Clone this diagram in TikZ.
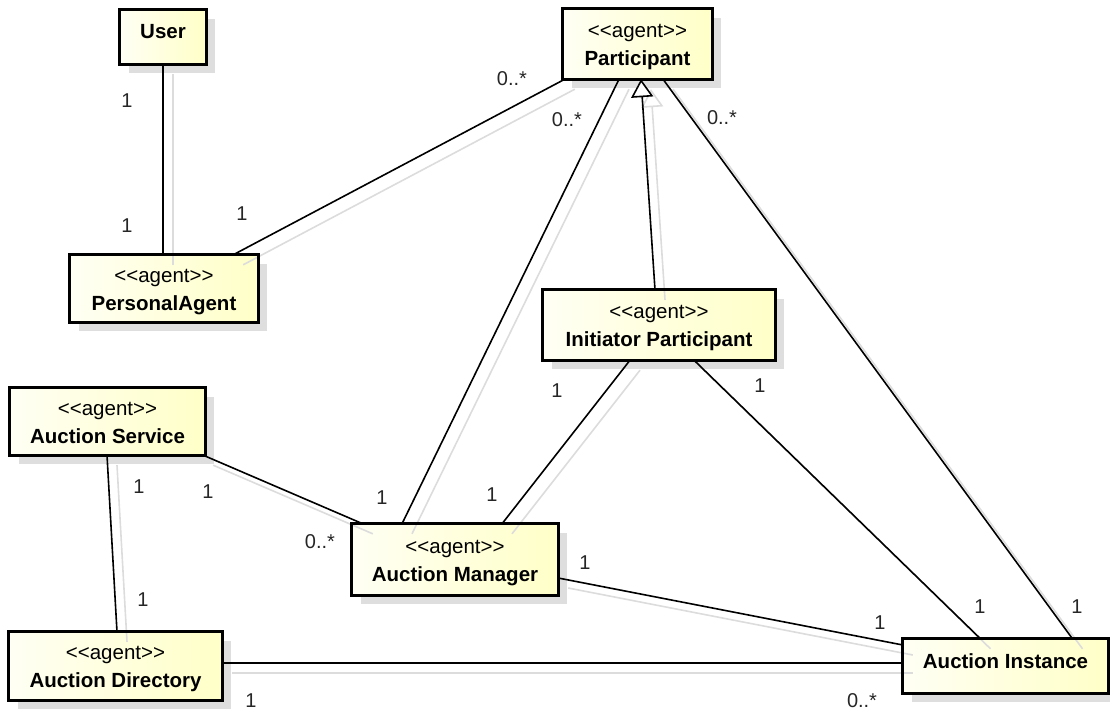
\documentclass[tikz,border=0pt]{standalone}
\usepackage{fontspec}
\setmainfont{Liberation Sans}
\newfontfamily\stereofont{Liberation Sans}
\usetikzlibrary{arrows.meta,calc}

\definecolor{boxleft}{RGB}{255,255,244}
\definecolor{boxright}{RGB}{255,255,200}
\definecolor{shadowgrey}{RGB}{222,222,222}
\definecolor{lineshadow}{RGB}{220,220,220}

% two-line class label: stereotype above, bold name below
\newcommand\agentname[1]{\rule{0pt}{20pt}{\stereofont\fontsize{20.5}{28}\selectfont <<agent>>}\\
  \rule[-4pt]{0pt}{4pt}{\fontsize{20.5}{28}\selectfont\bfseries #1}}
% one-line class label
\newcommand\plainname[1]{\rule[-12pt]{0pt}{28pt}{\fontsize{20.5}{28}\selectfont\bfseries #1}}

\tikzset{
  classbox/.style={rectangle, inner sep=0pt, align=center,
    left color=boxleft, right color=boxright, font=\fontsize{20.5}{28}\selectfont},
  boxshadow/.style={fill=shadowgrey, draw=none},
  boxborder/.style={draw=black, line width=3pt, line join=miter},
  assoc/.style={draw=black, line width=1.6pt},
  shadowline/.style={draw=lineshadow, line width=1.6pt, transform canvas={shift={(10pt,-10pt)}}},
  mult/.style={font=\fontsize{20}{22}\selectfont, inner sep=0pt, text=black!85},
}

\begin{document}
\begin{tikzpicture}[x=1pt, y=-1pt]
\useasboundingbox (0,0) rectangle (1110,711);

% class shadows
\foreach \cx/\cy/\w/\h in {163/37/86/54, 637.5/44/149/70, 164/288.5/188/67,
  659/325/232/70, 107.5/421.5/195/67, 455/559.5/206/71, 115.5/666/213/68,
  1005.5/666/205/54}
  \fill[boxshadow] (\cx-\w/2+9, \cy-\h/2+9) rectangle (\cx+\w/2+9, \cy+\h/2+9);

% classes
\node[classbox, minimum width=86pt, minimum height=54pt] (user) at (163,37) {\plainname{User}};
\node[classbox, minimum width=149pt, minimum height=70pt] (part) at (637.5,44) {\agentname{Participant}};
\node[classbox, minimum width=188pt, minimum height=67pt] (pa) at (164,288.5) {\agentname{PersonalAgent}};
\node[classbox, minimum width=232pt, minimum height=70pt] (init) at (659,325) {\agentname{Initiator Participant}};
\node[classbox, minimum width=195pt, minimum height=67pt] (serv) at (107.5,421.5) {\agentname{Auction Service}};
\node[classbox, minimum width=206pt, minimum height=71pt] (man) at (455,559.5) {\agentname{Auction Manager}};
\node[classbox, minimum width=213pt, minimum height=68pt] (dir) at (115.5,666) {\agentname{Auction Directory}};
\node[classbox, minimum width=205pt, minimum height=54pt] (inst) at (1005.5,666) {\plainname{Auction Instance}};

% connector shadows
\draw[shadowline] (user.south) -- (user.south |- pa.north);
\draw[shadowline] ([xshift=2pt]part.south west) -- ([xshift=-25pt]pa.north east);
\draw[shadowline] ([xshift=-18.5pt]part.south) -- ([xshift=-53pt]man.north);
\draw[shadowline, -{Triangle[open, length=18pt, width=22pt]}, line join=miter] ([xshift=-4pt]init.north) -- ([xshift=3.5pt]part.south);
\draw[shadowline] ([xshift=25.5pt]part.south) -- ([xshift=67pt]inst.north);
\draw[shadowline] ([xshift=-29pt]init.south) -- ([xshift=47pt]man.north);
\draw[shadowline] ([xshift=35pt]init.south) -- ([xshift=-25pt]inst.north);
\draw[shadowline] ([xshift=-2pt]serv.south east) -- ([xshift=11pt]man.north west);
\draw[shadowline] ([xshift=-0.5pt]serv.south) -- ([xshift=1.5pt]dir.north);
\draw[shadowline] ([yshift=-18.5pt]man.east) -- ([yshift=21pt]inst.west);
\draw[shadowline] ([yshift=3pt]dir.east) -- ([yshift=3pt]inst.west);

% class borders
\foreach \n in {user, part, pa, init, serv, man, dir, inst}
  \draw[boxborder] (\n.south west) rectangle (\n.north east);

% associations
\draw[assoc] (user.south) -- (user.south |- pa.north);
\draw[assoc] ([xshift=2pt]part.south west) -- ([xshift=-25pt]pa.north east);
\draw[assoc] ([xshift=-18.5pt]part.south) -- ([xshift=-53pt]man.north);
\draw[assoc] ([xshift=35pt]init.south) -- ([xshift=-25pt]inst.north);
\draw[assoc] ([xshift=25.5pt]part.south) -- ([xshift=67pt]inst.north);
\draw[assoc] ([xshift=-29pt]init.south) -- ([xshift=47pt]man.north);
\draw[assoc] ([xshift=-2pt]serv.south east) -- ([xshift=11pt]man.north west);
\draw[assoc] ([xshift=-0.5pt]serv.south) -- ([xshift=1.5pt]dir.north);
\draw[assoc] ([yshift=-18.5pt]man.east) -- ([yshift=21pt]inst.west);
\draw[assoc] ([yshift=3pt]dir.east) -- ([yshift=3pt]inst.west);

% generalization
\draw[assoc, -{Triangle[length=18pt, width=22pt, fill=white]}, line join=miter]
  ([xshift=-4pt]init.north) -- ([xshift=3.5pt]part.south);

% multiplicities
\node[mult] (m1) at (127,101) {1};
\node[mult] (m2) at (127,226) {1};
\node[mult] (m3) at (512,79) {0..*};
\node[mult] (m4) at (242,214) {1};
\node[mult] (m5) at (567,120) {0..*};
\node[mult] (m6) at (382,498) {1};
\node[mult] (m7) at (722,118) {0..*};
\node[mult] (m8) at (1077,607) {1};
\node[mult] (m9) at (557,391) {1};
\node[mult] (m10) at (492,495) {1};
\node[mult] (m11) at (760,386) {1};
\node[mult] (m12) at (980,607) {1};
\node[mult] (m13) at (139,487) {1};
\node[mult] (m14) at (208,492) {1};
\node[mult] (m15) at (320,542) {0..*};
\node[mult] (m16) at (143,600) {1};
\node[mult] (m17) at (585,563) {1};
\node[mult] (m18) at (880,623) {1};
\node[mult] (m19) at (251,701) {1};
\node[mult] (m20) at (862,701) {0..*};
\end{tikzpicture}
\end{document}
